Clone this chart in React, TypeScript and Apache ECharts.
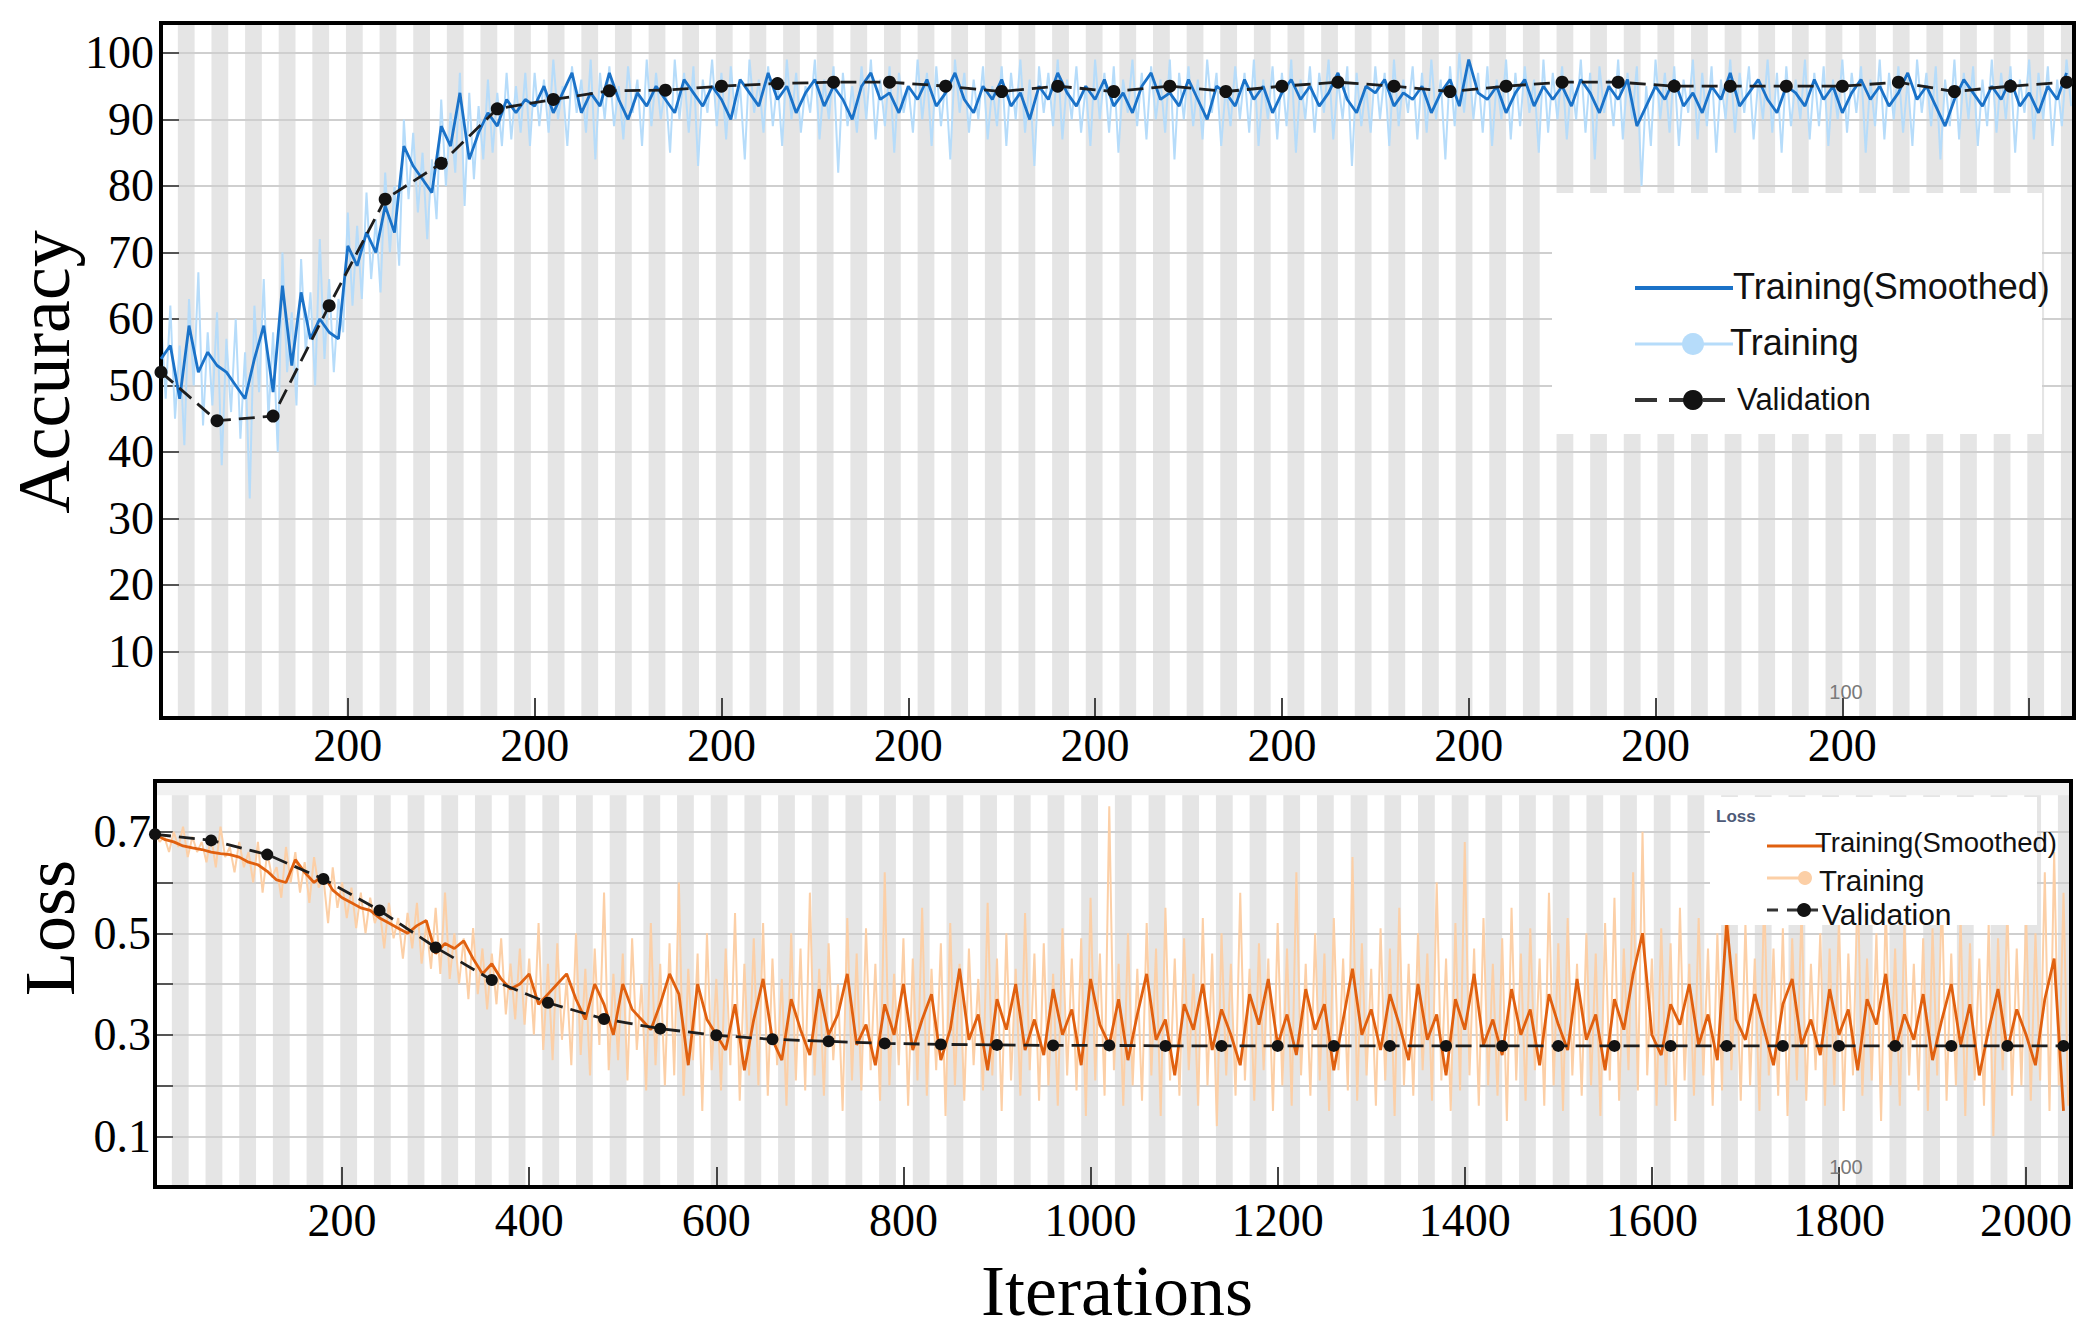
import React, { useEffect, useRef } from 'react';
import * as echarts from 'echarts';

// ---------- data ----------
const ITER_MAX = 2048;
const SMOOTH_STEP = 10; // iterations between smoothed samples
const RAW_STEP = 5; // iterations between raw samples
const VAL_STEP = 60; // iterations between validation points
const STRIPE_STEP = 18; // background stripe width (iterations)

const accSmoothed = [
  54, 56, 48, 59, 52, 55, 53, 52, 50, 48,
  54, 59, 49, 65, 53, 64, 57, 60, 58, 57,
  71, 68, 73, 70, 77, 73, 86, 83, 81, 79,
  89, 86, 94, 84, 88, 91, 89, 93, 91, 93,
  92, 95, 91, 94, 97, 91, 94, 92, 97, 93,
  90, 94, 92, 95, 93, 91, 96, 94, 92, 95,
  93, 90, 96, 94, 92, 97, 93, 95, 91, 94,
  96, 92, 95, 93, 90, 95, 97, 93, 94, 91,
  95, 93, 96, 92, 94, 97, 93, 91, 95, 93,
  96, 92, 94, 90, 95, 93, 97, 94, 92, 95,
  93, 96, 92, 94, 91, 95, 97, 93, 94, 92,
  96, 93, 90, 95, 94, 92, 96, 93, 95, 91,
  94, 96, 93, 95, 92, 94, 97, 93, 91, 95,
  94, 96, 92, 94, 93, 95, 91, 94, 96, 92,
  99, 94, 93, 95, 91, 94, 96, 92, 95, 93,
  95, 92, 96, 94, 91, 95, 93, 96, 89, 92,
  95, 93, 96, 92, 94, 91, 95, 93, 97, 92,
  94, 96, 93, 91, 95, 94, 92, 96, 93, 95,
  91, 94, 96, 93, 95, 92, 94, 97, 93, 95,
  92, 89, 93, 96, 94, 92, 95, 93, 96, 92,
  94, 91, 95, 93, 97,
];

const accRaw = [
  60, 48, 62, 45, 56, 41, 63, 50, 67, 44,
  58, 47, 61, 38, 57, 46, 60, 42, 55, 33,
  62, 49, 66, 45, 58, 40, 70, 52, 61, 47,
  69, 55, 64, 50, 72, 54, 66, 52, 63, 58,
  76, 62, 74, 63, 79, 66, 75, 64, 82, 70,
  80, 68, 90, 78, 88, 76, 85, 72, 84, 75,
  93, 80, 91, 82, 97, 77, 94, 81, 92, 84,
  96, 85, 94, 86, 97, 87, 95, 88, 97, 86,
  97, 89, 96, 88, 99, 90, 95, 86, 98, 91,
  96, 88, 99, 84, 97, 90, 98, 89, 95, 87,
  98, 91, 96, 86, 99, 89, 97, 90, 95, 85,
  99, 90, 97, 88, 98, 83, 96, 91, 99, 89,
  97, 87, 98, 90, 95, 84, 99, 91, 96, 88,
  98, 89, 96, 86, 99, 90, 97, 88, 95, 91,
  99, 87, 96, 90, 98, 82, 97, 89, 95, 88,
  98, 90, 99, 87, 96, 89, 98, 85, 97, 91,
  95, 88, 99, 90, 97, 86, 98, 89, 96, 84,
  99, 91, 97, 88, 96, 90, 98, 87, 95, 89,
  98, 86, 97, 90, 99, 88, 96, 83, 98, 91,
  97, 89, 99, 87, 96, 90, 98, 88, 95, 86,
  99, 90, 97, 88, 98, 85, 96, 91, 99, 89,
  97, 87, 98, 90, 96, 88, 99, 84, 97, 90,
  98, 89, 96, 87, 99, 91, 97, 86, 95, 89,
  98, 90, 97, 88, 99, 86, 96, 90, 98, 87,
  97, 89, 99, 85, 96, 90, 98, 88, 97, 91,
  99, 87, 96, 90, 98, 83, 97, 89, 95, 88,
  98, 90, 97, 86, 99, 89, 96, 91, 98, 87,
  97, 88, 99, 90, 96, 84, 98, 89, 100, 91,
  99, 90, 97, 88, 98, 86, 96, 90, 99, 87,
  97, 89, 98, 91, 96, 85, 99, 88, 97, 90,
  98, 87, 96, 90, 99, 88, 97, 84, 98, 91,
  96, 89, 99, 87, 97, 90, 98, 80, 95, 86,
  99, 90, 97, 88, 98, 86, 96, 91, 99, 87,
  97, 89, 98, 85, 96, 90, 99, 88, 97, 91,
  98, 87, 96, 90, 99, 88, 97, 85, 98, 89,
  96, 90, 99, 87, 97, 89, 98, 86, 96, 90,
  99, 88, 97, 91, 98, 85, 96, 89, 99, 87,
  97, 90, 98, 88, 96, 86, 99, 91, 97, 89,
  98, 84, 96, 89, 99, 87, 97, 90, 98, 86,
  96, 89, 99, 88, 97, 90, 98, 85, 96, 91,
  99, 87, 97, 90, 98, 86, 96, 89, 99, 92,
];

const accValidation = [
  52, 44.7, 45.4, 62, 78, 83.4, 91.6, 93, 94.3, 94.4,
  95, 95.4, 95.6, 95.6, 95, 94.2, 95, 94.2, 95, 94.2,
  95, 95.6, 95, 94.2, 95, 95.6, 95.6, 95, 95, 95,
  95, 95.6, 94.2, 95, 95.6,
];

const lossSmoothed = [
  0.695, 0.685, 0.68, 0.672, 0.668, 0.665, 0.66, 0.657, 0.655, 0.65,
  0.64, 0.635, 0.622, 0.605, 0.6, 0.645, 0.62, 0.6, 0.615, 0.585,
  0.57, 0.56, 0.55, 0.545, 0.53, 0.52, 0.51, 0.5, 0.515, 0.525,
  0.46, 0.48, 0.47, 0.485, 0.45, 0.42, 0.44, 0.41, 0.39, 0.4,
  0.42, 0.36, 0.38, 0.4, 0.42, 0.37, 0.33, 0.4, 0.36, 0.3,
  0.4, 0.35, 0.33, 0.31, 0.36, 0.42, 0.38, 0.24, 0.4, 0.33,
  0.3, 0.27, 0.36, 0.23, 0.33, 0.41, 0.29, 0.25, 0.37, 0.31,
  0.26, 0.39, 0.3, 0.34, 0.42, 0.28, 0.32, 0.24, 0.36, 0.3,
  0.4, 0.27, 0.33, 0.38, 0.25, 0.31, 0.43, 0.29, 0.34, 0.23,
  0.37, 0.31, 0.4, 0.27, 0.33, 0.26, 0.39, 0.3, 0.35, 0.24,
  0.41, 0.32, 0.28, 0.37, 0.25, 0.34, 0.42, 0.29, 0.33, 0.22,
  0.36, 0.31, 0.4, 0.27, 0.35, 0.3, 0.24, 0.38, 0.32, 0.41,
  0.28, 0.34, 0.26, 0.39, 0.31, 0.36, 0.23, 0.33, 0.43, 0.3,
  0.35, 0.27, 0.38, 0.32, 0.25, 0.4, 0.29, 0.34, 0.22, 0.37,
  0.31, 0.42, 0.28, 0.33, 0.26, 0.39, 0.3, 0.35, 0.24, 0.38,
  0.32, 0.27, 0.41, 0.29, 0.34, 0.23, 0.37, 0.31, 0.42, 0.5,
  0.3, 0.26, 0.36, 0.32, 0.4, 0.28, 0.34, 0.25, 0.52, 0.33,
  0.29, 0.38, 0.31, 0.24, 0.36, 0.41, 0.28, 0.33, 0.26, 0.39,
  0.3, 0.35, 0.23, 0.37, 0.32, 0.42, 0.27, 0.34, 0.29, 0.38,
  0.25, 0.33, 0.4, 0.28, 0.36, 0.22, 0.31, 0.39, 0.27, 0.35,
  0.3, 0.24, 0.37, 0.45, 0.15,
];

const lossRaw = [
  0.70, 0.68, 0.69, 0.66, 0.70, 0.67, 0.71, 0.65, 0.69, 0.66,
  0.68, 0.64, 0.69, 0.63, 0.71, 0.65, 0.67, 0.62, 0.68, 0.63,
  0.66, 0.60, 0.68, 0.58, 0.66, 0.61, 0.63, 0.57, 0.67, 0.60,
  0.66, 0.58, 0.64, 0.56, 0.65, 0.59, 0.61, 0.52, 0.63, 0.55,
  0.60, 0.53, 0.59, 0.51, 0.58, 0.50, 0.57, 0.52, 0.55, 0.47,
  0.56, 0.49, 0.53, 0.45, 0.54, 0.47, 0.56, 0.44, 0.52, 0.43,
  0.55, 0.42, 0.58, 0.41, 0.50, 0.40, 0.49, 0.37, 0.51, 0.38,
  0.47, 0.35, 0.46, 0.36, 0.49, 0.34, 0.44, 0.33, 0.47, 0.32,
  0.45, 0.30, 0.52, 0.27, 0.44, 0.25, 0.48, 0.29, 0.41, 0.24,
  0.50, 0.26, 0.43, 0.22, 0.47, 0.28, 0.58, 0.23, 0.42, 0.25,
  0.46, 0.21, 0.49, 0.27, 0.40, 0.19, 0.52, 0.24, 0.44, 0.20,
  0.48, 0.22, 0.60, 0.18, 0.43, 0.25, 0.46, 0.15, 0.50, 0.23,
  0.41, 0.19, 0.47, 0.24, 0.54, 0.17, 0.44, 0.22, 0.49, 0.20,
  0.52, 0.18, 0.45, 0.24, 0.41, 0.16, 0.50, 0.21, 0.47, 0.19,
  0.58, 0.22, 0.43, 0.18, 0.48, 0.25, 0.40, 0.15, 0.53, 0.21,
  0.46, 0.19, 0.51, 0.23, 0.44, 0.17, 0.62, 0.20, 0.42, 0.24,
  0.49, 0.16, 0.45, 0.21, 0.55, 0.18, 0.43, 0.23, 0.48, 0.14,
  0.52, 0.20, 0.44, 0.17, 0.47, 0.24, 0.41, 0.19, 0.56, 0.22,
  0.45, 0.15, 0.50, 0.21, 0.43, 0.18, 0.54, 0.23, 0.46, 0.17,
  0.48, 0.20, 0.42, 0.16, 0.51, 0.22, 0.45, 0.19, 0.49, 0.14,
  0.57, 0.21, 0.46, 0.18, 0.75, 0.23, 0.44, 0.16, 0.50, 0.20,
  0.43, 0.17, 0.52, 0.22, 0.47, 0.14, 0.55, 0.21, 0.45, 0.18,
  0.49, 0.23, 0.42, 0.16, 0.53, 0.20, 0.46, 0.12, 0.50, 0.22,
  0.44, 0.18, 0.58, 0.21, 0.43, 0.17, 0.48, 0.23, 0.45, 0.15,
  0.52, 0.20, 0.47, 0.16, 0.62, 0.22, 0.44, 0.18, 0.50, 0.21,
  0.46, 0.15, 0.53, 0.23, 0.45, 0.19, 0.65, 0.17, 0.48, 0.22,
  0.43, 0.16, 0.51, 0.21, 0.47, 0.14, 0.55, 0.20, 0.44, 0.18,
  0.50, 0.23, 0.46, 0.17, 0.60, 0.21, 0.45, 0.15, 0.52, 0.19,
  0.68, 0.22, 0.47, 0.16, 0.53, 0.20, 0.44, 0.18, 0.49, 0.13,
  0.55, 0.21, 0.46, 0.17, 0.51, 0.23, 0.45, 0.16, 0.58, 0.20,
  0.48, 0.15, 0.53, 0.22, 0.44, 0.18, 0.50, 0.20, 0.46, 0.14,
  0.52, 0.21, 0.57, 0.17, 0.47, 0.23, 0.62, 0.19, 0.70, 0.22,
  0.45, 0.16, 0.51, 0.20, 0.48, 0.13, 0.55, 0.21, 0.44, 0.18,
  0.53, 0.22, 0.47, 0.16, 0.50, 0.19, 0.72, 0.23, 0.46, 0.17,
  0.52, 0.20, 0.45, 0.15, 0.58, 0.22, 0.47, 0.18, 0.51, 0.14,
  0.49, 0.21, 0.55, 0.17, 0.44, 0.23, 0.50, 0.16, 0.47, 0.20,
  0.53, 0.15, 0.46, 0.22, 0.60, 0.18, 0.45, 0.21, 0.50, 0.13,
  0.56, 0.20, 0.47, 0.16, 0.52, 0.22, 0.44, 0.19, 0.49, 0.15,
  0.51, 0.22, 0.58, 0.17, 0.46, 0.20, 0.53, 0.14, 0.48, 0.21,
  0.45, 0.16, 0.52, 0.10, 0.49, 0.23, 0.55, 0.18, 0.47, 0.20,
  0.54, 0.17, 0.50, 0.21, 0.62, 0.15, 0.66, 0.20, 0.58, 0.16,
];

const lossValidation = [
  0.695, 0.683, 0.655, 0.607, 0.545, 0.472, 0.408, 0.363, 0.331, 0.312,
  0.299, 0.291, 0.287, 0.283, 0.281, 0.28, 0.279, 0.279, 0.278, 0.278,
  0.278, 0.278, 0.278, 0.278, 0.278, 0.278, 0.278, 0.278, 0.278, 0.278,
  0.278, 0.278, 0.278, 0.278, 0.278,
];

// tick labels
const accXTicks = [200, 400, 600, 800, 1000, 1200, 1400, 1600, 1800];
const accXLabels = ['200', '200', '200', '200', '200', '200', '200', '200', '200'];
const lossXTicks = [200, 400, 600, 800, 1000, 1200, 1400, 1600, 1800, 2000];
const lossXLabels = ['200', '400', '600', '800', '1000', '1200', '1400', '1600', '1800', '2000'];
const accYTicks = [10, 20, 30, 40, 50, 60, 70, 80, 90, 100];
const accYLabels = ['10', '20', '30', '40', '50', '60', '70', '80', '90', '100'];
const lossYTicks = [0.1, 0.3, 0.5, 0.7];
const lossYLabels = ['0.1', '0.3', '0.5', '0.7'];
const legendNames = ['Training(Smoothed)', 'Training', 'Validation'];
const yTitles = ['Accuracy', 'Loss'];
const xTitle = 'Iterations';
const cornerNote = '100';

// ---------- styles ----------
const SERIF = '"Liberation Serif", "Times New Roman", serif';
const SANS = '"Liberation Sans", Arial, sans-serif';
const BLUE = '#1a72c8';
const LIGHT_BLUE = '#b6dcfa';
const ORANGE = '#e0600f';
const LIGHT_ORANGE = '#fccfa6';
const DARK = '#121212';

const labelFrom = (ticks: number[], labels: string[]) => (v: number) => {
  const i = ticks.findIndex((t) => Math.abs(t - v) < 1e-6);
  return i >= 0 ? labels[i] : '';
};

const toPairs = (arr: number[], step: number) => arr.map((v, i) => [i * step, v]);

function buildOption(): any {
  const xTickAxis = (gridIndex: number, ticks: number[], labels: string[], margin: number) => ({
    type: 'value',
    gridIndex,
    min: 0,
    max: ITER_MAX,
    interval: 200,
    axisLine: { show: false },
    axisTick: { show: true, inside: true, length: 20, lineStyle: { color: '#444', width: 2 } },
    axisLabel: {
      formatter: labelFrom(ticks, labels),
      fontFamily: SERIF,
      fontSize: 46,
      color: '#000',
      margin,
      showMinLabel: false,
      showMaxLabel: false,
    },
    splitLine: { show: false },
    z: 1,
  });
  const stripeAxis = (gridIndex: number) => ({
    type: 'value',
    gridIndex,
    min: 0,
    max: ITER_MAX,
    interval: STRIPE_STEP,
    show: true,
    axisLine: { show: false },
    axisTick: { show: false },
    axisLabel: { show: false },
    splitLine: { show: false },
    splitArea: { show: true, areaStyle: { color: ['rgba(0,0,0,0)', 'rgba(0,0,0,0.1)'] } },
    z: 0,
  });
  const yAxis = (gridIndex: number, max: number, interval: number, ticks: number[], labels: string[], margin: number) => ({
    type: 'value',
    gridIndex,
    min: 0,
    max,
    interval,
    axisLine: { show: false },
    axisTick: { show: true, inside: true, length: 18, lineStyle: { color: '#555', width: 2 } },
    axisLabel: {
      formatter: labelFrom(ticks, labels),
      fontFamily: SERIF,
      fontSize: 46,
      color: '#000',
      margin,
    },
    splitLine: { show: true, lineStyle: { color: '#cfcfcf', width: 2 } },
    z: 1,
  });

  const graphics: any[] = [];
  const text = (x: number, y: number, t: string, font: string, opts: any = {}) => ({
    type: 'text',
    x,
    y,
    z: 60,
    rotation: opts.rotation || 0,
    style: {
      text: t,
      font,
      fill: opts.fill || '#111',
      align: opts.align || 'left',
      textAlign: opts.align || 'left',
      verticalAlign: 'middle',
      textVerticalAlign: 'middle',
    },
  });
  const line = (x1: number, x2: number, y: number, stroke: string, lw: number, dash?: number[]) => ({
    type: 'line',
    z: 55,
    shape: { x1, y1: y, x2, y2: y },
    style: { stroke, lineWidth: lw, lineDash: dash || null },
  });
  const dot = (cx: number, cy: number, r: number, fill: string) => ({
    type: 'circle',
    z: 56,
    shape: { cx, cy, r },
    style: { fill },
  });

  // top legend
  graphics.push({ type: 'rect', z: 50, shape: { x: 1552, y: 193, width: 490, height: 241 }, style: { fill: '#fff' } });
  graphics.push(line(1635, 1733, 288, BLUE, 4));
  graphics.push(text(1733, 286, legendNames[0], `36px ${SANS}`));
  graphics.push(line(1635, 1733, 344, LIGHT_BLUE, 3));
  graphics.push(dot(1693, 344, 11, LIGHT_BLUE));
  graphics.push(text(1730, 342, legendNames[1], `36px ${SANS}`));
  graphics.push(line(1635, 1733, 400, '#333', 4, [22, 12]));
  graphics.push(dot(1693, 400, 10, DARK));
  graphics.push(text(1737, 399, legendNames[2], `31px ${SANS}`));

  // bottom legend
  graphics.push({ type: 'rect', z: 50, shape: { x: 1710, y: 797, width: 327, height: 128 }, style: { fill: '#fff' } });
  graphics.push(text(1716, 816, 'Loss', `bold 17px ${SANS}`, { fill: '#4d5a78' }));
  graphics.push(line(1767, 1823, 846, ORANGE, 3));
  graphics.push(text(1815, 842, legendNames[0], `27.5px ${SANS}`));
  graphics.push(line(1767, 1810, 878, LIGHT_ORANGE, 3));
  graphics.push(dot(1805, 878, 7, LIGHT_ORANGE));
  graphics.push(text(1819, 880, legendNames[1], `29.5px ${SANS}`));
  graphics.push(line(1767, 1823, 910, '#333', 3, [11, 9]));
  graphics.push(dot(1804, 910, 7, DARK));
  graphics.push(text(1822, 914, legendNames[2], `30px ${SANS}`));

  // titles
  graphics.push(text(44, 372, yTitles[0], `74px ${SERIF}`, { align: 'center', rotation: Math.PI / 2, fill: '#000' }));
  graphics.push(text(50, 928, yTitles[1], `72px ${SERIF}`, { align: 'center', rotation: Math.PI / 2, fill: '#000' }));
  graphics.push(text(1117, 1291, xTitle, `72px ${SERIF}`, { align: 'center', fill: '#000' }));

  // small corner notes
  graphics.push(text(1846, 692, cornerNote, `20px ${SANS}`, { align: 'center', fill: '#7a7a7a' }));
  graphics.push(text(1846, 1167, cornerNote, `20px ${SANS}`, { align: 'center', fill: '#7a7a7a' }));

  return {
    animation: false,
    backgroundColor: '#fff',
    grid: [
      { left: 161, top: 23, width: 1913, height: 695, show: true, borderColor: '#000', borderWidth: 4, backgroundColor: 'rgba(0,0,0,0)', z: 3 },
      { left: 155, top: 781, width: 1916, height: 406, show: true, borderColor: '#000', borderWidth: 4, backgroundColor: 'rgba(0,0,0,0)', z: 3 },
    ],
    xAxis: [
      xTickAxis(0, accXTicks, accXLabels, 4),
      stripeAxis(0),
      xTickAxis(1, lossXTicks, lossXLabels, 10),
      stripeAxis(1),
    ],
    yAxis: [
      yAxis(0, 104.5, 10, accYTicks, accYLabels, 7),
      yAxis(1, 0.8, 0.1, lossYTicks, lossYLabels, 4),
    ],
    series: [
      {
        name: legendNames[1], type: 'line', xAxisIndex: 0, yAxisIndex: 0, z: 2,
        data: toPairs(accRaw, RAW_STEP), symbol: 'none',
        lineStyle: { color: LIGHT_BLUE, width: 2 },
      },
      {
        name: legendNames[0], type: 'line', xAxisIndex: 0, yAxisIndex: 0, z: 3,
        data: toPairs(accSmoothed, SMOOTH_STEP), symbol: 'none',
        lineStyle: { color: BLUE, width: 2.8 },
      },
      {
        name: legendNames[2], type: 'line', xAxisIndex: 0, yAxisIndex: 0, z: 4,
        data: toPairs(accValidation, VAL_STEP), symbol: 'circle', symbolSize: 13,
        itemStyle: { color: DARK }, lineStyle: { color: '#1e1e1e', width: 2.8, type: [16, 8] },
      },
      {
        name: legendNames[1] + ' (loss)', type: 'line', xAxisIndex: 2, yAxisIndex: 1, z: 2,
        data: toPairs(lossRaw, RAW_STEP), symbol: 'none',
        lineStyle: { color: LIGHT_ORANGE, width: 2 },
      },
      {
        name: legendNames[0] + ' (loss)', type: 'line', xAxisIndex: 2, yAxisIndex: 1, z: 3,
        data: toPairs(lossSmoothed, SMOOTH_STEP), symbol: 'none',
        lineStyle: { color: ORANGE, width: 2.8 },
      },
      {
        name: legendNames[2] + ' (loss)', type: 'line', xAxisIndex: 2, yAxisIndex: 1, z: 4,
        data: toPairs(lossValidation, VAL_STEP), symbol: 'circle', symbolSize: 12,
        itemStyle: { color: DARK }, lineStyle: { color: '#1e1e1e', width: 2.8, type: [16, 8] },
        markArea: {
          silent: true,
          itemStyle: { color: '#f1f1f1' },
          data: [[{ yAxis: 0.772 }, { yAxis: 0.8 }]],
        },
      },
    ],
    graphic: graphics,
  };
}

export default function App() {
  const ref = useRef<HTMLDivElement>(null);
  useEffect(() => {
    document.body.style.margin = '0';
    const chart = echarts.init(ref.current as HTMLDivElement, null, { renderer: 'svg' });
    chart.setOption(buildOption());
    return () => chart.dispose();
  }, []);
  return <div ref={ref} style={{ width: 2098, height: 1340 }} />;
}
